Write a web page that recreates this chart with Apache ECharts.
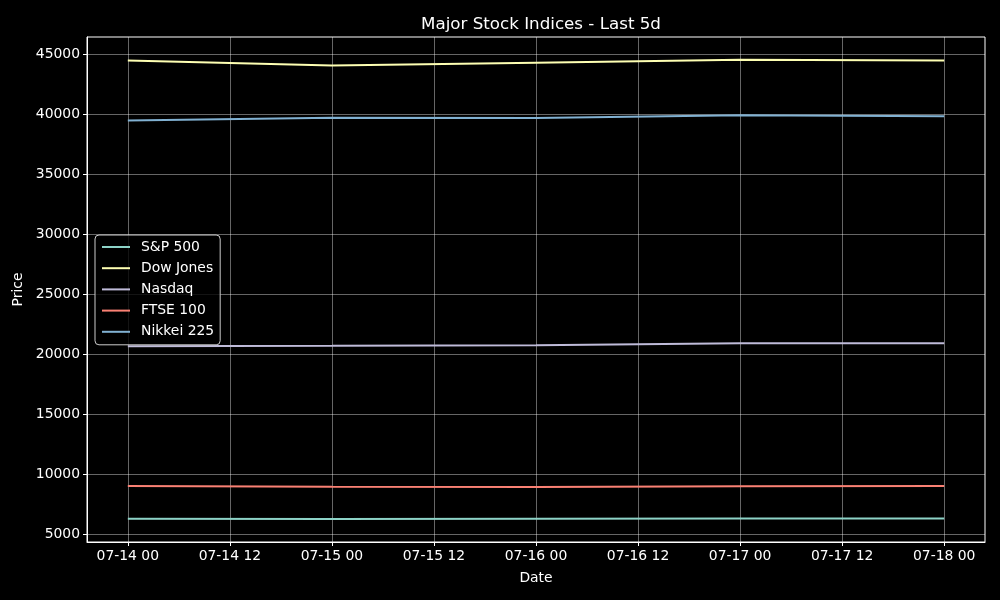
<!DOCTYPE html>
<html>
<head>
<meta charset="utf-8">
<script src="https://cdn.jsdelivr.net/npm/echarts@6/dist/echarts.min.js"></script>
<style>
  html, body { margin: 0; padding: 0; background: #000; }
  #chart { width: 1000px; height: 600px; }
</style>
</head>
<body>
<div id="chart"></div>
<script>
// data
const dates = ['2025-07-14', '2025-07-15', '2025-07-16', '2025-07-17', '2025-07-18'];
const seriesNames = ['S&P 500', 'Dow Jones', 'Nasdaq', 'FTSE 100', 'Nikkei 225'];
const sp500 = [6268, 6244, 6264, 6297, 6297];
const dowJones = [44470, 44040, 44270, 44520, 44460];
const nasdaq = [20640, 20678, 20730, 20886, 20896];
const ftse100 = [8998, 8938, 8926, 8972, 8992];
const nikkei225 = [39460, 39680, 39665, 39900, 39820];
const colors = ['#8dd3c7', '#feffb3', '#bfbbd9', '#fa8174', '#81b1d2'];
const xTicks = [0, 12, 24, 36, 48, 60, 72, 84, 96];   // hours from first date
const yTicks = [5000, 10000, 15000, 20000, 25000, 30000, 35000, 40000, 45000];

const font = 'DejaVu Sans';
const t0 = new Date(dates[0] + 'T00:00:00Z').getTime();
const hours = dates.map(d => (new Date(d + 'T00:00:00Z').getTime() - t0) / 3600000);

function hourLabel(h) {
  const d = new Date(t0 + h * 3600000);
  const p = n => String(n).padStart(2, '0');
  return p(d.getUTCMonth() + 1) + '-' + p(d.getUTCDate()) + ' ' + p(d.getUTCHours());
}

const allValues = [sp500, dowJones, nasdaq, ftse100, nikkei225];

const chart = echarts.init(document.getElementById('chart'));

const option = {
  backgroundColor: '#000',
  animation: false,
  title: {
    text: 'Major Stock Indices - Last 5d',
    left: 536,
    textAlign: 'center',
    top: 11,
    textStyle: { color: '#fff', fontSize: 16.7, fontWeight: 'normal', fontFamily: font }
  },
  grid: {
    left: 87, right: 15, top: 37, bottom: 58,
    show: true, borderColor: '#fff', borderWidth: 1, backgroundColor: 'transparent'
  },
  legend: {
    orient: 'vertical',
    left: 95,
    top: 235,
    itemWidth: 28,
    itemHeight: 14,
    itemGap: 7.2,
    padding: [5, 6, 6, 6],
    backgroundColor: 'rgba(0,0,0,0.8)',
    borderColor: '#cccccc',
    borderWidth: 1,
    borderRadius: 4,
    itemStyle: { opacity: 0 },
    textStyle: { color: '#fff', fontSize: 13.9, fontFamily: font, padding: [0, 0, 0, 6] },
    data: seriesNames
  },
  xAxis: {
    type: 'value',
    min: -4.8,
    max: 100.8,
    name: 'Date',
    nameLocation: 'middle',
    nameGap: 29,
    nameTextStyle: { color: '#fff', fontSize: 13.9, fontFamily: font },
    axisLine: { show: true, onZero: false, lineStyle: { color: '#fff' } },
    axisTick: { show: true, length: 4, customValues: xTicks, lineStyle: { color: '#fff' } },
    axisLabel: {
      customValues: xTicks, color: '#fff', fontSize: 13.9, fontFamily: font, margin: 7,
      formatter: v => hourLabel(v)
    },
    splitLine: { show: true, lineStyle: { color: 'rgba(255,255,255,0.4)', width: 1 } }
  },
  yAxis: {
    type: 'value',
    min: 4332,
    max: 46420,
    name: 'Price',
    nameLocation: 'middle',
    nameGap: 59,
    nameTextStyle: { color: '#fff', fontSize: 13.9, fontFamily: font },
    axisLine: { show: true, onZero: false, lineStyle: { color: '#fff' } },
    axisTick: { show: true, length: 4, customValues: yTicks, lineStyle: { color: '#fff' } },
    axisLabel: {
      customValues: yTicks, color: '#fff', fontSize: 13.9, fontFamily: font, margin: 7,
      formatter: v => String(v)
    },
    splitLine: { show: true, lineStyle: { color: 'rgba(255,255,255,0.4)', width: 1 } }
  },
  series: seriesNames.map((name, i) => ({
    name: name,
    type: 'line',
    symbol: 'none',
    color: colors[i],
    lineStyle: { width: 2, color: colors[i] },
    data: hours.map((h, j) => [h, allValues[i][j]])
  }))
};

chart.setOption(option);
</script>
</body>
</html>
